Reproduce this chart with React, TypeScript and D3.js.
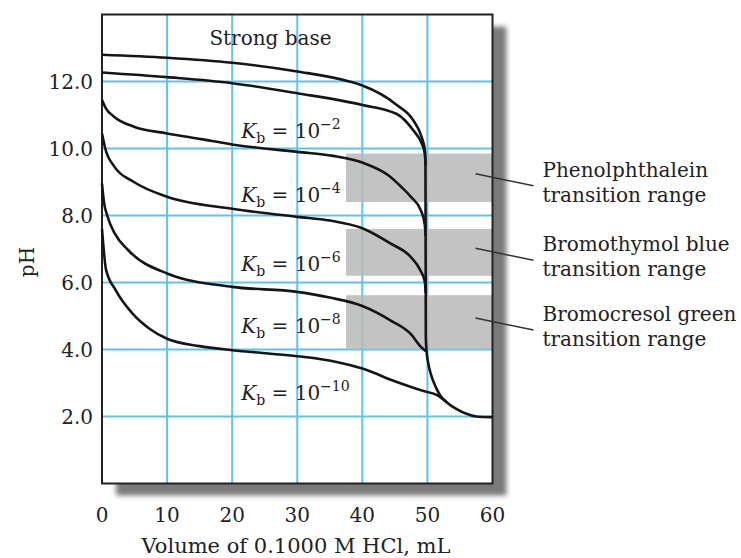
import React from "react";
import * as d3 from "d3";

// ---- data (volume of HCl in mL, pH) ----
const strongBase: [number, number][] = [
  [0, 12.8], [10, 12.71], [20, 12.56], [30, 12.3], [38, 12.0], [40, 11.88], [45.3, 11.3],
  [47.8, 10.85], [49.1, 10.35], [49.6, 9.96], [49.7, 9.5], [49.75, 4.4], [49.85, 4.0],
  [50.1, 3.62], [50.6, 3.22], [51.3, 2.87], [52, 2.62], [53, 2.42], [54.5, 2.22], [56, 2.08],
  [57.5, 2.0], [60, 1.98],
];
const kb2: [number, number][] = [
  [0, 12.27], [10, 12.13], [20, 11.95], [30, 11.65], [40, 11.3], [45.3, 11.03], [47.8, 10.55],
  [49.1, 10.16], [49.6, 9.86], [49.72, 9.5],
];
const kb4: [number, number][] = [
  [0, 11.45], [0.6, 11.2], [1.85, 10.95], [4.9, 10.65], [10, 10.45], [15.2, 10.28], [20, 10.12],
  [30, 9.9], [35.5, 9.78], [40, 9.58], [44, 9.2], [46, 8.85], [47.5, 8.55], [49, 8.15],
  [49.6, 7.72], [49.72, 7.4],
];
const kb6: [number, number][] = [
  [0, 10.45], [0.5, 10.0], [1.9, 9.46], [4.9, 9.0], [10, 8.56], [20, 8.2], [30, 7.96],
  [35, 7.85], [40, 7.62], [44.3, 7.17], [47.4, 6.77], [48.9, 6.37], [49.6, 6.02], [49.73, 5.7],
];
const kb8: [number, number][] = [
  [0, 8.95], [0.3, 8.4], [0.8, 8.0], [2, 7.45], [4, 6.97], [10, 6.27], [20, 5.87], [30, 5.72],
  [35, 5.55], [40, 5.3], [44.5, 4.85], [47.5, 4.45], [49, 4.08], [49.75, 3.95],
];
const kb10: [number, number][] = [
  [0, 7.6], [0.3, 6.9], [0.6, 6.4], [2.1, 5.77], [4.7, 5.07], [7.3, 4.62], [10, 4.32], [15, 4.1],
  [20, 3.98], [30, 3.8], [35.5, 3.65], [40, 3.43], [45.3, 3.03], [49.4, 2.76], [51.5, 2.64],
  [53, 2.42],
];
const curves = [strongBase, kb2, kb4, kb6, kb8, kb10];

const kbExponents = ["\u22122", "\u22124", "\u22126", "\u22128", "\u221210"];
const kbLabelPH = [10.3, 8.39, 6.34, 4.49, 2.49];

const bandNames = [
  ["Phenolphthalein", "transition range"],
  ["Bromothymol blue", "transition range"],
  ["Bromocresol green", "transition range"],
];
const bandLow = [8.4, 6.2, 4.02];
const bandHigh = [9.85, 7.6, 5.62];
const bandStartML = 37.5;

const xTicks = [0, 10, 20, 30, 40, 50, 60];
const yTicks = [2, 4, 6, 8, 10, 12];
const yTickLabels = ["2.0", "4.0", "6.0", "8.0", "10.0", "12.0"];

const W = 741;
const H = 558;
const FONT = "'DejaVu Serif', serif";

export default function App() {
  const x = d3.scaleLinear().domain([0, 60]).range([102, 492.5]);
  const y = d3.scaleLinear().domain([0, 14]).range([483.5, 14.5]);
  const line = d3
    .line<[number, number]>()
    .x((d) => x(d[0]))
    .y((d) => y(d[1]))
    .curve(d3.curveMonotoneX);

  const x0 = x(0), x1 = x(60), yT = y(14), yB = y(0);

  return (
    <svg
      width={W}
      height={H}
      viewBox={`0 0 ${W} ${H}`}
      style={{ position: "absolute", left: 0, top: 0, background: "#fff" }}
    >
      <defs>
        <filter id="blur" x="-10%" y="-10%" width="120%" height="120%">
          <feGaussianBlur stdDeviation="2.5" />
        </filter>
      </defs>
      {/* shadow */}
      <rect x={x0 + 14} y={yT + 12} width={x1 - x0} height={yB - yT} fill="#7a7a7a" filter="url(#blur)" />
      <rect x={x0} y={yT} width={x1 - x0} height={yB - yT} fill="#fff" />

      {/* grid */}
      {xTicks.slice(1, -1).map((t) => (
        <line key={"gx" + t} x1={x(t)} x2={x(t)} y1={yT} y2={yB} stroke="#5ec4ef" strokeWidth={2} />
      ))}
      {yTicks.map((t) => (
        <line key={"gy" + t} x1={x0} x2={x1} y1={y(t)} y2={y(t)} stroke="#5ec4ef" strokeWidth={2} />
      ))}

      {/* bands */}
      {bandLow.map((lo, i) => (
        <rect
          key={"b" + i}
          x={x(bandStartML)}
          y={y(bandHigh[i])}
          width={x(60) - x(bandStartML)}
          height={y(lo) - y(bandHigh[i])}
          fill="#b8b8b8"
          opacity={0.85}
        />
      ))}

      {/* frame */}
      <rect x={x0} y={yT} width={x1 - x0} height={yB - yT} fill="none" stroke="#222" strokeWidth={2} />

      {/* curves */}
      {curves.map((c, i) => (
        <path key={"c" + i} d={line(c) || ""} fill="none" stroke="#151515" strokeWidth={2.6} strokeLinejoin="round" />
      ))}

      {/* leader lines and band labels */}
      {bandLow.map((lo, i) => {
        const mid = y((lo + bandHigh[i]) / 2) - 4;
        const endY = mid + 12;
        return (
          <g key={"l" + i}>
            <line x1={x(57.4)} y1={mid} x2={x(60) + 41} y2={endY} stroke="#333" strokeWidth={1.5} />
            <text x={x(60) + 50} y={endY - 9} fontFamily={FONT} fontSize={20} fill="#222">
              {bandNames[i][0]}
            </text>
            <text x={x(60) + 50} y={endY + 16} fontFamily={FONT} fontSize={20} fill="#222">
              {bandNames[i][1]}
            </text>
          </g>
        );
      })}

      {/* Strong base label */}
      <text x={x(16.5)} y={45} fontFamily={FONT} fontSize={20} fill="#222">
        Strong base
      </text>

      {/* Kb labels */}
      {kbExponents.map((e, i) => (
        <text
          key={"k" + i}
          x={x(21.4)}
          y={y(kbLabelPH[i])}
          fontFamily={FONT}
          fontSize={20}
          fill="#222"
          style={{ whiteSpace: "pre" }}
        >
          <tspan fontStyle="italic">K</tspan>
          <tspan fontSize={14} dy={5}>b</tspan>
          <tspan dy={-5}>{" = 10"}</tspan>
          <tspan fontSize={14} dy={-9}>{e}</tspan>
        </text>
      ))}

      {/* y tick labels */}
      {yTicks.map((t, i) => (
        <text key={"yt" + t} x={93} y={y(t) + 7} textAnchor="end" fontFamily={FONT} fontSize={20} fill="#222">
          {yTickLabels[i]}
        </text>
      ))}
      {/* x tick labels */}
      {xTicks.map((t) => (
        <text key={"xt" + t} x={x(t)} y={522} textAnchor="middle" fontFamily={FONT} fontSize={20} fill="#222">
          {t}
        </text>
      ))}

      {/* axis titles */}
      <text x={296} y={553} textAnchor="middle" fontFamily={FONT} fontSize={21} fill="#222">
        Volume of 0.1000 M HCl, mL
      </text>
      <text
        transform={`translate(34, 262) rotate(-90)`}
        textAnchor="middle"
        fontFamily={FONT}
        fontSize={20}
        fill="#222"
      >
        pH
      </text>
    </svg>
  );
}
